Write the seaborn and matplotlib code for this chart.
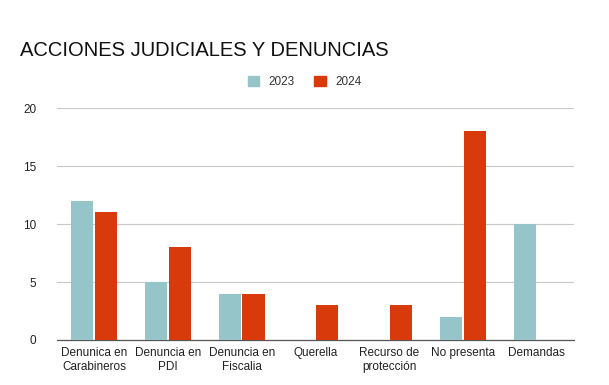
import matplotlib
matplotlib.use("Agg")
import matplotlib.pyplot as plt
import seaborn as sns
import pandas as pd

categories = ["Denunica en\nCarabineros", "Denuncia en\nPDI", "Denuncia en\nFiscalia",
              "Querella", "Recurso de\nprotección", "No presenta", "Demandas"]
values_2023 = [12, 5, 4, 0, 0, 2, 10]
values_2024 = [11, 8, 4, 3, 3, 18, 0]
years = ["2023", "2024"]
colors = ["#95c4c9", "#d93a0c"]

df = pd.DataFrame({
    "categoria": categories * 2,
    "valor": values_2023 + values_2024,
    "anio": [years[0]] * len(categories) + [years[1]] * len(categories),
})

sns.set_style("white")
plt.rcParams["font.family"] = ["Liberation Sans", "DejaVu Sans"]

fig = plt.figure(figsize=(6.09, 3.85), dpi=100)
ax = fig.add_axes([0.094, 0.117, 0.848, 0.602])

sns.barplot(data=df, x="categoria", y="valor", hue="anio", palette=colors,
            saturation=1, width=0.64, gap=0.06, linewidth=0,
            ax=ax, legend=False, zorder=3)

ax.set_ylim(0, 20)
ax.set_xlim(-0.5, len(categories) - 0.5)
ax.set_yticks([0, 5, 10, 15, 20])
ax.grid(axis="y", color="#c8c8c8", linewidth=0.8, zorder=0)
for s in ["top", "right", "left"]:
    ax.spines[s].set_visible(False)
ax.spines["bottom"].set_color("#555555")
ax.spines["bottom"].set_linewidth(0.9)
ax.tick_params(axis="both", length=0, labelsize=8.5, labelcolor="#222222")
ax.tick_params(axis="y", pad=15)
ax.tick_params(axis="x", pad=5)
ax.set_xlabel("")
ax.set_ylabel("")

fig.text(0.033, 0.87, "ACCIONES JUDICIALES Y DENUNCIAS", fontsize=14.5,
         color="#111111", va="center", ha="left")

handles = [plt.Rectangle((0, 0), 1, 1, color=c) for c in colors]
fig.legend(handles, years, loc="center", bbox_to_anchor=(0.5, 0.787), ncol=2,
           frameon=False, fontsize=8.5, handlelength=1.0, handleheight=1.0,
           columnspacing=1.6, handletextpad=0.8, labelcolor="#333333")

fig.savefig("out.png", dpi=100)
